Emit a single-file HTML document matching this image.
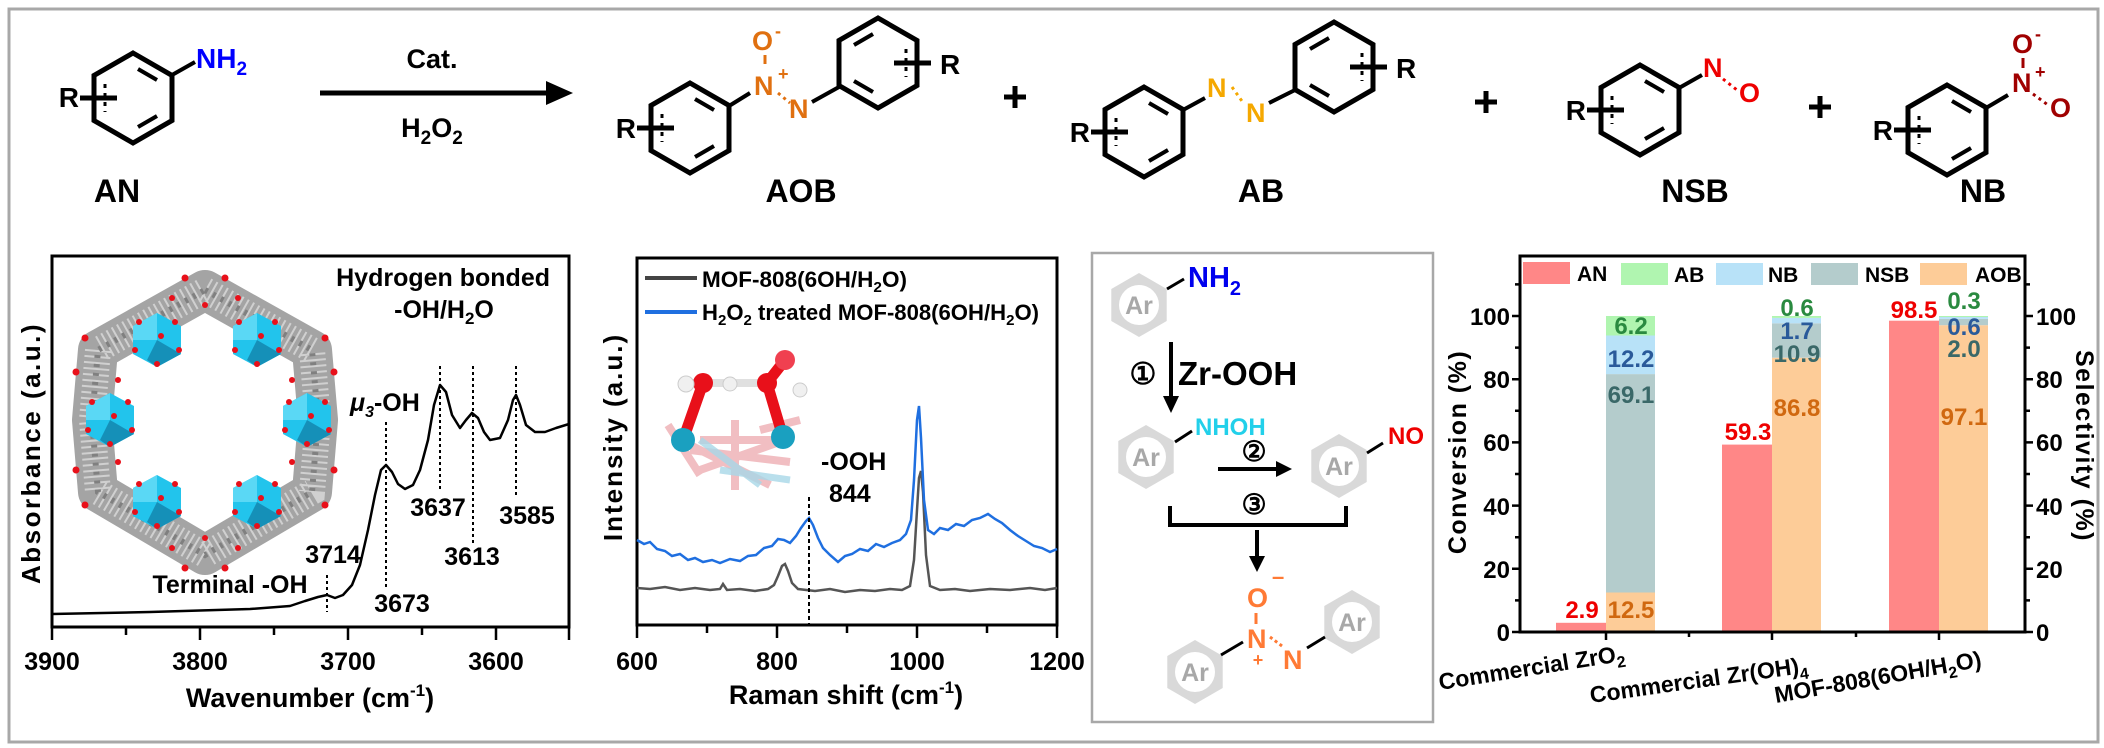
<!DOCTYPE html>
<html><head><meta charset="utf-8"><style>
html,body{margin:0;padding:0;background:#fff;}
svg{display:block;}
text{font-family:"Liberation Sans",Arial,sans-serif;font-weight:bold;}
</style></head><body>
<svg width="2104" height="748" viewBox="0 0 2104 748" xmlns="http://www.w3.org/2000/svg">
<defs>
<g id="ring">
<polygon points="0,-45 39,-22.5 39,22.5 0,45 -39,22.5 -39,-22.5" fill="none" stroke="#000" stroke-width="5" stroke-linejoin="miter"/>
<path d="M5,-29 L24,-18 M24,18 L5,29" stroke="#000" stroke-width="4"/>
<path d="M-28,-14 V14" stroke="#000" stroke-width="3" stroke-dasharray="4,5"/>
<path d="M-53,0 H-16" stroke="#000" stroke-width="5"/>
</g>
<g id="ar">
<polygon points="0,-32 27.7,-16 27.7,16 0,32 -27.7,16 -27.7,-16" fill="#d9d9d9"/>
<circle cx="0" cy="0" r="20" fill="#fff"/>
<text x="0" y="9" font-size="25" fill="#a8a8a8" text-anchor="middle">Ar</text>
</g>
<g id="clu">
<polygon points="0,-27 24,-14 24,14 0,27 -24,14 -24,-14" fill="#22c4ec"/>
<polygon points="0,0 24,14 0,27 -10,20" fill="#1590b8"/>
<polygon points="0,-27 -24,-14 -24,0 0,0" fill="#5ad8f5"/>
<circle cx="-18" cy="-18" r="3" fill="#e8101a"/><circle cx="18" cy="-18" r="3" fill="#e8101a"/>
<circle cx="-22" cy="10" r="3" fill="#e8101a"/><circle cx="22" cy="10" r="3" fill="#e8101a"/>
<circle cx="0" cy="24" r="3" fill="#e8101a"/><circle cx="4" cy="-4" r="3" fill="#e8101a"/>
</g>
</defs>
<rect x="9" y="9" width="2089" height="733" fill="none" stroke="#a8a8a8" stroke-width="3"/>

<!-- AN -->
<use href="#ring" x="133" y="98"/>
<text x="79" y="107" font-size="28" text-anchor="end" font-weight="normal">R</text>
<path d="M172,75 L195,62" stroke="#000" stroke-width="4"/>
<text x="196" y="68" font-size="28" fill="#0000ff" font-weight="normal">NH<tspan font-size="19" dy="7">2</tspan></text>
<text x="117" y="202" font-size="32" text-anchor="middle">AN</text>

<path d="M320,93 H550" stroke="#000" stroke-width="5"/>
<polygon points="573,93 546,81 546,105" fill="#000"/>
<text x="432" y="68" font-size="27" text-anchor="middle" font-weight="normal">Cat.</text>
<text x="432" y="137" font-size="27" text-anchor="middle" font-weight="normal">H<tspan font-size="19" dy="7">2</tspan><tspan dy="-7">O</tspan><tspan font-size="19" dy="7">2</tspan></text>

<!-- AOB -->
<use href="#ring" x="690" y="128"/>
<text x="636" y="138" font-size="28" text-anchor="end" font-weight="normal">R</text>
<path d="M729,106 L750,93" stroke="#000" stroke-width="4"/>
<g fill="#e07010" font-weight="normal">
<text x="754" y="95" font-size="27">N</text>
<text x="778" y="80" font-size="18">+</text>
<text x="752" y="50" font-size="27">O</text>
<text x="775" y="37" font-size="18">-</text>
<text x="789" y="118" font-size="27">N</text>
</g>
<path d="M765,55 V64" stroke="#e07010" stroke-width="3"/>
<path d="M778,93 L790,103" stroke="#e07010" stroke-width="3" stroke-dasharray="3,4"/>
<path d="M812,102 L839,87" stroke="#000" stroke-width="4"/>
<use href="#ring" transform="translate(878,63) scale(-1,1)"/>
<text x="940" y="74" font-size="28" font-weight="normal">R</text>
<text x="801" y="202" font-size="32" text-anchor="middle">AOB</text>

<path d="M1015,86 V108 M1004,97 H1026" stroke="#000" stroke-width="5"/>

<!-- AB -->
<use href="#ring" x="1144" y="132"/>
<text x="1090" y="142" font-size="28" text-anchor="end" font-weight="normal">R</text>
<path d="M1183,110 L1205,98" stroke="#000" stroke-width="4"/>
<g fill="#f5a800" font-weight="normal">
<text x="1207" y="97" font-size="27">N</text>
<text x="1246" y="122" font-size="27">N</text>
</g>
<path d="M1232,87 L1244,104" stroke="#f5a800" stroke-width="3" stroke-dasharray="3,4"/>
<path d="M1269,103 L1297,89" stroke="#000" stroke-width="4"/>
<use href="#ring" transform="translate(1334,67) scale(-1,1)"/>
<text x="1396" y="78" font-size="28" font-weight="normal">R</text>
<text x="1261" y="202" font-size="32" text-anchor="middle">AB</text>

<path d="M1486,91 V113 M1475,102 H1497" stroke="#000" stroke-width="5"/>

<!-- NSB -->
<use href="#ring" x="1640" y="110"/>
<text x="1586" y="120" font-size="28" text-anchor="end" font-weight="normal">R</text>
<path d="M1679,88 L1702,75" stroke="#000" stroke-width="4"/>
<text x="1703" y="77" font-size="27" fill="#ee0000" font-weight="normal">N</text>
<text x="1739" y="102" font-size="27" fill="#ee0000" font-weight="normal">O</text>
<path d="M1723,79 L1737,90" stroke="#ee0000" stroke-width="3" stroke-dasharray="3,4"/>
<text x="1695" y="202" font-size="32" text-anchor="middle">NSB</text>

<path d="M1820,96 V118 M1809,107 H1831" stroke="#000" stroke-width="5"/>

<!-- NB -->
<use href="#ring" x="1947" y="130"/>
<text x="1893" y="140" font-size="28" text-anchor="end" font-weight="normal">R</text>
<path d="M1986,108 L2008,95" stroke="#000" stroke-width="4"/>
<g fill="#a00000" font-weight="normal">
<text x="2012" y="92" font-size="27">N</text>
<text x="2035" y="78" font-size="18">+</text>
<text x="2012" y="53" font-size="27">O</text>
<text x="2035" y="40" font-size="18">-</text>
<text x="2050" y="117" font-size="27">O</text>
</g>
<path d="M2023,58 V68" stroke="#a00000" stroke-width="3"/>
<path d="M2033,94 L2048,105" stroke="#a00000" stroke-width="3" stroke-dasharray="3,4"/>
<text x="1983" y="202" font-size="32" text-anchor="middle">NB</text>

<!-- ===== Panel 1 IR ===== -->
<rect x="52" y="256" width="517" height="371" fill="none" stroke="#000" stroke-width="3"/>
<path d="M52,627 V640 M200,627 V640 M348,627 V640 M496,627 V640 M569,627 V640 M126,627 V635 M274,627 V635 M422,627 V635" stroke="#000" stroke-width="2.5"/>
<g font-size="25" text-anchor="middle">
<text x="52" y="670">3900</text><text x="200" y="670">3800</text><text x="348" y="670">3700</text><text x="496" y="670">3600</text>
</g>
<text x="310" y="707" font-size="27" text-anchor="middle">Wavenumber (cm<tspan font-size="17" dy="-11">-1</tspan><tspan dy="11">)</tspan></text>
<text transform="translate(40,453) rotate(-90)" font-size="26" text-anchor="middle" letter-spacing="2.5">Absorbance (a.u.)</text>

<!-- MOF illustration -->
<g>
<polygon points="205,290 312,350 318,420 312,492 205,555 98,492 92,420 98,350" fill="none" stroke="#a4a4a4" stroke-width="40" stroke-linejoin="round"/>
<polygon points="205,290 312,350 318,420 312,492 205,555 98,492 92,420 98,350" fill="none" stroke="#d0d0d0" stroke-width="26" stroke-dasharray="2,4"/>
<polygon points="205,290 312,350 318,420 312,492 205,555 98,492 92,420 98,350" fill="none" stroke="#808080" stroke-width="6" stroke-dasharray="3,6"/>
<g fill="#e8101a">
<circle cx="185" cy="278" r="3.5"/><circle cx="225" cy="278" r="3.5"/><circle cx="205" cy="305" r="3"/><circle cx="85" cy="338" r="3.5"/><circle cx="325" cy="338" r="3.5"/>
<circle cx="76" cy="372" r="3.5"/><circle cx="334" cy="372" r="3.5"/><circle cx="76" cy="470" r="3.5"/><circle cx="334" cy="470" r="3.5"/><circle cx="85" cy="505" r="3.5"/>
<circle cx="325" cy="505" r="3.5"/><circle cx="185" cy="568" r="3.5"/><circle cx="225" cy="568" r="3.5"/><circle cx="205" cy="538" r="3"/><circle cx="118" cy="380" r="3"/>
<circle cx="292" cy="380" r="3"/><circle cx="118" cy="462" r="3"/><circle cx="292" cy="462" r="3"/><circle cx="172" cy="298" r="3"/><circle cx="238" cy="298" r="3"/>
<circle cx="172" cy="548" r="3"/><circle cx="238" cy="548" r="3"/>
</g>
<use href="#clu" x="157" y="340"/><use href="#clu" x="257" y="340"/>
<use href="#clu" x="110" y="420"/><use href="#clu" x="307" y="420"/>
<use href="#clu" x="157" y="502"/><use href="#clu" x="257" y="502"/>
</g>

<polyline fill="none" stroke="#000" stroke-width="2.5" stroke-linejoin="round" points="52,614 150,612 250,609 290,606 305,601 318,597 327,595 335,598 343,595 352,585 360,565 368,530 375,495 381,470 386,465 392,472 398,484 405,489 413,485 420,470 428,440 434,405 440,385 446,392 452,415 460,428 466,420 472,413 478,418 484,432 490,440 500,438 508,420 513,400 516,395 520,405 526,425 535,432 545,432 556,428 569,424"/>
<g stroke="#000" stroke-width="2" stroke-dasharray="3,3">
<path d="M327,575 V612"/><path d="M386,422 V590"/><path d="M440,366 V492"/><path d="M473,366 V545"/><path d="M516,366 V497"/>
</g>
<g font-size="25" text-anchor="middle">
<text x="333" y="563">3714</text><text x="402" y="612">3673</text><text x="438" y="516">3637</text><text x="472" y="565">3613</text><text x="527" y="524">3585</text>
</g>
<text x="230" y="593" font-size="25" text-anchor="middle">Terminal -OH</text>
<text x="350" y="411" font-size="25"><tspan font-style="italic">μ</tspan><tspan font-size="16" dy="6" font-style="italic">3</tspan><tspan dy="-6">-OH</tspan></text>
<text x="550" y="286" font-size="25" text-anchor="end">Hydrogen bonded</text>
<text x="444" y="318" font-size="25" text-anchor="middle">-OH/H<tspan font-size="17" dy="6">2</tspan><tspan dy="-6">O</tspan></text>

<!-- ===== Panel 2 Raman ===== -->
<rect x="637" y="258" width="420" height="367" fill="none" stroke="#000" stroke-width="3"/>
<path d="M637,625 V638 M777,625 V638 M917,625 V638 M1057,625 V638 M707,625 V633 M847,625 V633 M987,625 V633" stroke="#000" stroke-width="2.5"/>
<g font-size="25" text-anchor="middle">
<text x="637" y="670">600</text><text x="777" y="670">800</text><text x="917" y="670">1000</text><text x="1057" y="670">1200</text>
</g>
<text x="846" y="704" font-size="27" text-anchor="middle">Raman shift (cm<tspan font-size="17" dy="-11">-1</tspan><tspan dy="11">)</tspan></text>
<text transform="translate(622,437) rotate(-90)" font-size="26" text-anchor="middle" letter-spacing="2">Intensity (a.u.)</text>
<path d="M645,278 H697" stroke="#444" stroke-width="4"/>
<path d="M645,312 H697" stroke="#1f6fe0" stroke-width="4"/>
<text x="702" y="287" font-size="22" textLength="205" lengthAdjust="spacingAndGlyphs">MOF-808(6OH/H<tspan font-size="15" dy="5">2</tspan><tspan dy="-5">O)</tspan></text>
<text x="702" y="320" font-size="22" textLength="337" lengthAdjust="spacingAndGlyphs">H<tspan font-size="15" dy="5">2</tspan><tspan dy="-5">O</tspan><tspan font-size="15" dy="5">2</tspan><tspan dy="-5"> treated MOF-808(6OH/H</tspan><tspan font-size="15" dy="5">2</tspan><tspan dy="-5">O)</tspan></text>

<g>
<path d="M668,425 L700,475 M700,470 L785,440 M690,450 L790,462 M680,440 L770,485 M735,420 V490 M760,430 L800,420 M700,440 L790,440" stroke="#f0b8bc" stroke-width="8" opacity="0.9"/>
<path d="M700,440 L760,485 M720,470 L790,480" stroke="#a8d8e8" stroke-width="7" opacity="0.8"/>
<path d="M683,440 L703,383 M783,437 L767,383 M767,383 L785,360" stroke="#e8101a" stroke-width="11"/>
<path d="M703,383 H767" stroke="#e0e0e0" stroke-width="8"/>
<circle cx="683" cy="440" r="12" fill="#1aa0c0"/>
<circle cx="783" cy="437" r="12" fill="#1aa0c0"/>
<circle cx="703" cy="383" r="10" fill="#e8101a"/>
<circle cx="767" cy="383" r="10" fill="#e8101a"/>
<circle cx="785" cy="360" r="10" fill="#f04050"/>
<circle cx="686" cy="384" r="8" fill="#f0f0f0" stroke="#ccc"/>
<circle cx="730" cy="384" r="7" fill="#f0f0f0" stroke="#ccc"/>
<circle cx="800" cy="390" r="7" fill="#f0f0f0" stroke="#ccc"/>
</g>

<polyline fill="none" stroke="#555" stroke-width="2.5" points="637,588 650,589 665,587 680,590 695,588 710,590 720,589 723,584 727,590 740,589 755,591 768,589 774,585 778,576 782,566 785,564 788,571 792,583 798,589 815,591 830,589 845,592 860,590 875,591 890,589 902,590 910,586 914,560 917,510 919,478 921,471 923,492 926,555 930,586 940,590 955,589 970,591 990,589 1010,590 1030,588 1045,590 1057,588"/>
<polyline fill="none" stroke="#1f6fe0" stroke-width="2.5" points="637,540 644,544 650,542 657,549 665,551 672,556 680,554 688,560 695,558 703,562 712,560 720,563 730,559 740,561 748,556 756,555 764,548 772,546 778,539 784,540 790,543 796,536 801,528 806,521 809,518 813,525 818,538 823,548 830,555 838,562 845,556 852,554 860,549 868,551 876,544 884,547 892,543 900,540 906,534 911,520 914,480 917,420 919,406 921,438 924,500 928,530 934,534 940,528 948,530 956,524 964,526 972,520 980,518 988,514 995,519 1002,523 1010,530 1018,536 1026,541 1034,546 1042,548 1050,552 1057,549"/>
<path d="M809,497 V625" stroke="#000" stroke-width="2" stroke-dasharray="4,3"/>
<text x="821" y="470" font-size="25">-OOH</text>
<text x="829" y="502" font-size="25">844</text>

<!-- ===== Panel 3 mechanism ===== -->
<rect x="1092" y="253" width="341" height="469" fill="none" stroke="#a8a8a8" stroke-width="2.5"/>
<use href="#ar" x="1139" y="305"/>
<path d="M1167,289 L1184,279" stroke="#000" stroke-width="3"/>
<text x="1188" y="287" font-size="29" fill="#0000ee">NH<tspan font-size="20" dy="8">2</tspan></text>
<path d="M1171,342 V400" stroke="#000" stroke-width="4"/>
<polygon points="1171,413 1163,396 1179,396" fill="#000"/>
<text x="1143" y="384" font-size="30" text-anchor="middle" font-weight="normal">①</text>
<text x="1178" y="385" font-size="33">Zr-OOH</text>
<use href="#ar" x="1146" y="457"/>
<path d="M1175,442 L1192,431" stroke="#000" stroke-width="3"/>
<text x="1195" y="435" font-size="24" fill="#22d0ea">NHOH</text>
<text x="1254" y="461" font-size="28" text-anchor="middle" font-weight="normal">②</text>
<path d="M1218,469 H1280" stroke="#000" stroke-width="4"/>
<polygon points="1292,469 1276,461 1276,477" fill="#000"/>
<use href="#ar" x="1339" y="466"/>
<path d="M1367,453 L1383,443" stroke="#000" stroke-width="3"/>
<text x="1388" y="444" font-size="24" fill="#ee0000">NO</text>
<text x="1254" y="514" font-size="28" text-anchor="middle" font-weight="normal">③</text>
<path d="M1170,506 V525 H1346 V506" fill="none" stroke="#000" stroke-width="4"/>
<path d="M1257,530 V560" stroke="#000" stroke-width="4"/>
<polygon points="1257,572 1249,556 1265,556" fill="#000"/>
<g fill="#ff7a35">
<text x="1247" y="607" font-size="27">O</text>
<text x="1272" y="584" font-size="22">–</text>
<text x="1247" y="648" font-size="27">N</text>
<text x="1258" y="666" font-size="18" text-anchor="middle">+</text>
<text x="1283" y="669" font-size="27">N</text>
</g>
<path d="M1256,613 V624" stroke="#ff7a35" stroke-width="3"/>
<path d="M1270,637 L1282,646" stroke="#ff7a35" stroke-width="3" stroke-dasharray="3,3"/>
<use href="#ar" x="1195" y="672"/>
<path d="M1221,655 L1243,642" stroke="#000" stroke-width="3"/>
<use href="#ar" x="1352" y="622"/>
<path d="M1307,648 L1325,637" stroke="#000" stroke-width="3"/>

<!-- ===== Panel 4 bar chart ===== -->
<g>
<rect x="1556" y="622.8" width="50" height="9.2" fill="#ff8787"/>
<rect x="1606" y="592.5" width="49" height="39.5" fill="#fdcc98"/>
<rect x="1606" y="374.1" width="49" height="218.4" fill="#b4cccc"/>
<rect x="1606" y="335.5" width="49" height="38.6" fill="#b8e2f8"/>
<rect x="1606" y="316" width="49" height="19.5" fill="#b0f5b0"/>
<rect x="1722" y="444.6" width="50" height="187.4" fill="#ff8787"/>
<rect x="1772" y="357.7" width="49" height="274.3" fill="#fdcc98"/>
<rect x="1772" y="323.3" width="49" height="34.4" fill="#b4cccc"/>
<rect x="1772" y="317.9" width="49" height="5.4" fill="#b8e2f8"/>
<rect x="1772" y="316" width="49" height="1.9" fill="#b0f5b0"/>
<rect x="1889" y="320.7" width="50" height="311.3" fill="#ff8787"/>
<rect x="1939" y="325.2" width="49" height="306.8" fill="#fdcc98"/>
<rect x="1939" y="318.9" width="49" height="6.3" fill="#b4cccc"/>
<rect x="1939" y="317" width="49" height="1.9" fill="#b8e2f8"/>
<rect x="1939" y="316" width="49" height="1" fill="#b0f5b0"/>
</g>
<rect x="1520" y="256" width="505" height="376" fill="none" stroke="#000" stroke-width="3"/>
<path d="M1520,632 H1512 M1520,600.4 H1515 M1520,568.8 H1512 M1520,537.2 H1515 M1520,505.6 H1512 M1520,474 H1515 M1520,442.4 H1512 M1520,410.8 H1515 M1520,379.2 H1512 M1520,347.6 H1515 M1520,316 H1512 M1520,284.4 H1515" stroke="#000" stroke-width="2.5"/>
<path d="M2025,632 H2033 M2025,600.4 H2030 M2025,568.8 H2033 M2025,537.2 H2030 M2025,505.6 H2033 M2025,474 H2030 M2025,442.4 H2033 M2025,410.8 H2030 M2025,379.2 H2033 M2025,347.6 H2030 M2025,316 H2033 M2025,284.4 H2030" stroke="#000" stroke-width="2.5"/>
<path d="M1606,632 V640 M1772,632 V640 M1939,632 V640 M1689,632 V637 M1856,632 V637" stroke="#000" stroke-width="2.5"/>
<g font-size="24" text-anchor="end">
<text x="1510" y="641">0</text><text x="1510" y="578">20</text><text x="1510" y="515">40</text><text x="1510" y="451">60</text><text x="1510" y="388">80</text><text x="1510" y="325">100</text>
</g>
<g font-size="24">
<text x="2036" y="641">0</text><text x="2036" y="578">20</text><text x="2036" y="515">40</text><text x="2036" y="451">60</text><text x="2036" y="388">80</text><text x="2036" y="325">100</text>
</g>
<text transform="translate(1466,452) rotate(-90)" font-size="25" text-anchor="middle" letter-spacing="1.5">Conversion (%)</text>
<text transform="translate(2076,446) rotate(90)" font-size="25" text-anchor="middle" letter-spacing="1.5">Selectivity (%)</text>
<rect x="1523" y="262" width="47" height="22" fill="#ff8787"/><text x="1577" y="281" font-size="21">AN</text>
<rect x="1621" y="263" width="47" height="22" fill="#b0f5b0"/><text x="1674" y="282" font-size="21">AB</text>
<rect x="1716" y="263" width="47" height="22" fill="#b8e2f8"/><text x="1768" y="282" font-size="21">NB</text>
<rect x="1811" y="263" width="47" height="22" fill="#b4cccc"/><text x="1865" y="282" font-size="21">NSB</text>
<rect x="1920" y="263" width="47" height="22" fill="#fdcc98"/><text x="1975" y="282" font-size="21">AOB</text>
<g font-size="24" text-anchor="middle">
<text x="1582" y="618" fill="#ee0000">2.9</text>
<text x="1631" y="618" fill="#d06810">12.5</text>
<text x="1631" y="403" fill="#3a6868">69.1</text>
<text x="1631" y="367" fill="#2a5a9a">12.2</text>
<text x="1631" y="334" fill="#2a8a40">6.2</text>
<text x="1748" y="440" fill="#ee0000">59.3</text>
<text x="1797" y="416" fill="#d06810">86.8</text>
<text x="1797" y="362" fill="#3a6868">10.9</text>
<text x="1797" y="339" fill="#2a5a9a">1.7</text>
<text x="1797" y="316" fill="#2a8a40">0.6</text>
<text x="1914" y="318" fill="#ee0000">98.5</text>
<text x="1964" y="309" fill="#2a8a40">0.3</text>
<text x="1964" y="335" fill="#2a5a9a">0.6</text>
<text x="1964" y="357" fill="#3a6868">2.0</text>
<text x="1964" y="425" fill="#d06810">97.1</text>
</g>
<text transform="translate(1440,690) rotate(-9)" font-size="23">Commercial ZrO<tspan font-size="16" dy="6">2</tspan></text>
<text transform="translate(1591,703) rotate(-8)" font-size="23">Commercial Zr(OH)<tspan font-size="16" dy="6">4</tspan></text>
<text transform="translate(1776,703) rotate(-10)" font-size="23">MOF-808(6OH/H<tspan font-size="16" dy="6">2</tspan><tspan dy="-6">O)</tspan></text>
</svg>
</body></html>
